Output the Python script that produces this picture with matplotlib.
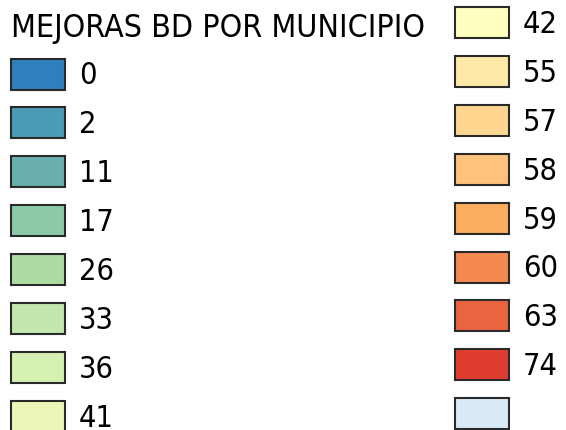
import matplotlib.pyplot as plt
from matplotlib.patches import Rectangle

# legend classes, left column then right column
title = "MEJORAS BD POR MUNICIPIO"
left_labels = ["0", "2", "11", "17", "26", "33", "36", "41"]
left_colors = ["#2e80bd", "#4a9bb6", "#6aafae", "#8cc9a9", "#acdca2", "#c3e7ac", "#d6f0b1", "#ebf7b8"]
right_labels = ["42", "55", "57", "58", "59", "60", "63", "74", ""]
right_colors = ["#ffffc0", "#fee9a6", "#fed690", "#fec27b", "#fdad60", "#f48a4f", "#e9643f", "#de3c2e", "#d9eaf7"]

fig = plt.figure(figsize=(5.66, 4.31), dpi=100)
ax = fig.add_axes([0, 0, 1, 1])
ax.set_xlim(0, 566)
ax.set_ylim(431, 0)
ax.axis("off")

font = dict(family="DejaVu Sans", fontstretch="condensed")

ax.text(11, 28, title, fontsize=23, va="center", ha="left", **font)

sw_w, sw_h = 54, 31
step = 48.9

def draw_column(labels, colors, x0, y0):
    for i, (lab, col) in enumerate(zip(labels, colors)):
        yc = y0 + i * step
        ax.add_patch(Rectangle((x0, yc - sw_h / 2), sw_w, sw_h, facecolor=col,
                               edgecolor="#2a2a2a", linewidth=1.5))
        ax.text(x0 + sw_w + 14, yc + 1, lab, fontsize=22, va="center", ha="left", **font)

draw_column(left_labels, left_colors, 11, 75)
draw_column(right_labels, right_colors, 455, 23.5)

fig.savefig("out.png", dpi=100)
